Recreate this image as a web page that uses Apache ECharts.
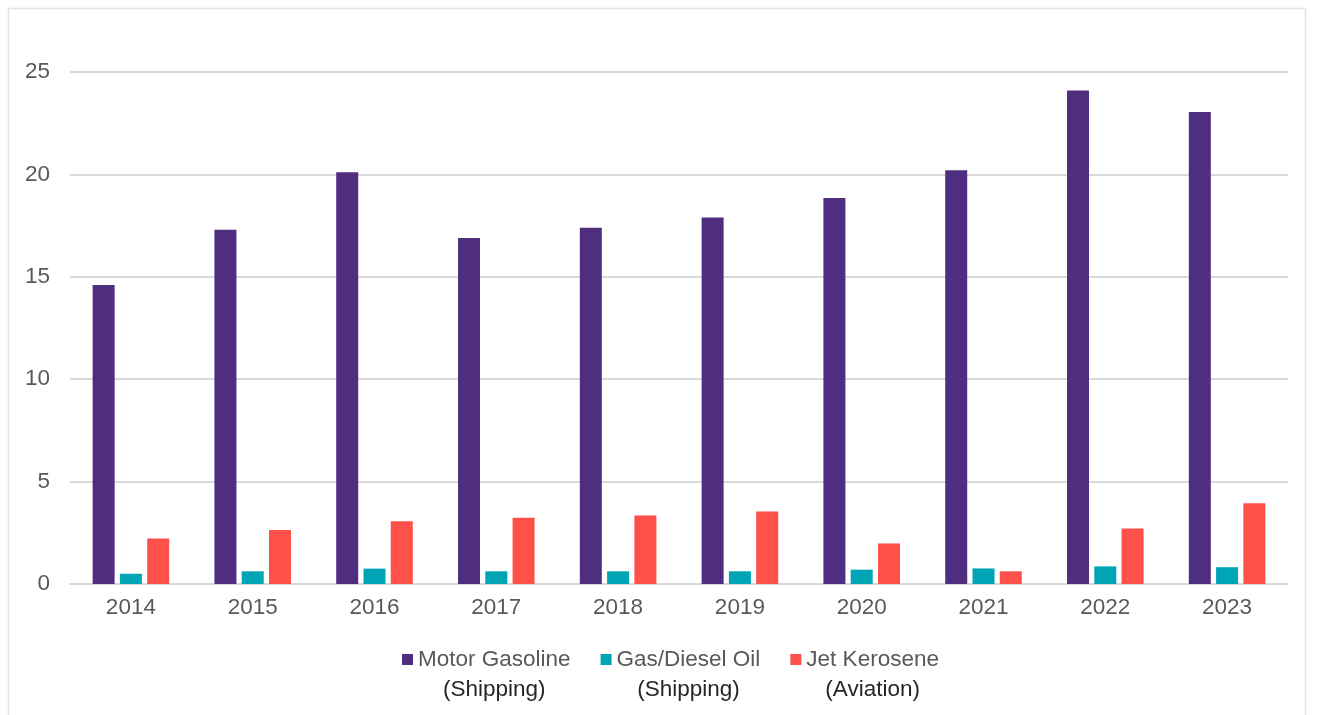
<!DOCTYPE html>
<html>
<head>
<meta charset="utf-8">
<title>Fuel use by type, 2014–2023</title>
<script src="https://cdn.jsdelivr.net/npm/echarts@6/dist/echarts.min.js"></script>
<style>
  html, body { margin: 0; padding: 0; background: #ffffff; }
  #chart { width: 1317px; height: 715px; }
</style>
</head>
<body>
<div id="chart"></div>
<script>
// Years on the category axis
const years = ['2014', '2015', '2016', '2017', '2018', '2019', '2020', '2021', '2022', '2023'];

// Series values per year
const motorGasoline = [14.6, 17.3, 20.1, 16.9, 17.4, 17.9, 18.85, 20.2, 24.1, 23.05];
const gasDieselOil  = [0.5, 0.62, 0.75, 0.62, 0.62, 0.62, 0.7, 0.76, 0.86, 0.82];
const jetKerosene   = [2.22, 2.64, 3.06, 3.24, 3.35, 3.54, 1.98, 0.62, 2.71, 3.94];

// Legend labels: fuel name, then usage in brackets on a second line
const seriesNames = ['Motor Gasoline', 'Gas/Diesel Oil', 'Jet Kerosene'];
const seriesUses  = ['(Shipping)', '(Shipping)', '(Aviation)'];

// Value axis ticks
const yTicks = [0, 5, 10, 15, 20, 25];

const colors = ['#4f2d7f', '#00a5b5', '#ff504a'];
const FONT = '"Liberation Sans", Arial, sans-serif';
const FS = 22.5;

const chart = echarts.init(document.getElementById('chart'), null, { renderer: 'canvas' });

// Square marker sitting at the top of a taller box so it lines up with the first legend line
const legendIcon = 'path://M0,0L11,0L11,11L0,11Z M0,41';

const option = {
  animation: false,
  backgroundColor: '#ffffff',
  color: colors,
  textStyle: { fontFamily: FONT },
  graphic: [{
    type: 'rect',
    silent: true,
    shape: { x: 8.5, y: 8.5, width: 1297, height: 720 },
    style: { fill: 'none', stroke: '#e4e4e4', lineWidth: 1.5 }
  }],
  grid: { left: 70, right: 29, top: 72, bottom: 131, containLabel: false },
  legend: {
    bottom: 9,
    left: 397,
    itemWidth: 11,
    itemHeight: 41,
    itemGap: 30,
    icon: legendIcon,
    data: seriesNames,
    formatter: function (name) {
      const i = seriesNames.indexOf(name);
      return '{a|' + name + '}\n{b|' + seriesUses[i] + '}';
    },
    textStyle: {
      fontFamily: FONT,
      fontSize: FS,
      rich: {
        a: { fontFamily: FONT, fontSize: FS, color: '#595959', lineHeight: 30, align: 'center' },
        b: { fontFamily: FONT, fontSize: FS, color: '#262626', lineHeight: 30, align: 'center' }
      }
    }
  },
  xAxis: {
    type: 'category',
    data: years,
    axisTick: { show: false },
    axisLine: { show: true, lineStyle: { color: '#d9d9d9', width: 2 } },
    axisLabel: { color: '#595959', fontSize: FS, fontFamily: FONT, margin: 12 },
    splitLine: { show: false }
  },
  yAxis: {
    type: 'value',
    min: yTicks[0],
    max: yTicks[yTicks.length - 1],
    interval: yTicks[1] - yTicks[0],
    axisLine: { show: false },
    axisTick: { show: false },
    axisLabel: { color: '#595959', fontSize: FS, fontFamily: FONT, margin: 20 },
    splitLine: { lineStyle: { color: '#d9d9d9', width: 2 } }
  },
  series: [
    { name: seriesNames[0], type: 'bar', data: motorGasoline, barWidth: 22, barGap: '24%' },
    { name: seriesNames[1], type: 'bar', data: gasDieselOil,  barWidth: 22, barGap: '24%' },
    { name: seriesNames[2], type: 'bar', data: jetKerosene,   barWidth: 22, barGap: '24%' }
  ]
};

chart.setOption(option);
</script>
</body>
</html>
